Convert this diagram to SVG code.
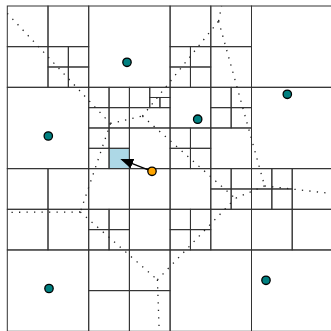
<svg xmlns="http://www.w3.org/2000/svg" width="331" height="331" viewBox="0 0 331 331">
<style>
.c{fill:none;stroke:#333;stroke-width:1}
.v{fill:none;stroke:#222;stroke-width:1.3;stroke-dasharray:1.3 6.2}
.site{fill:#008080;stroke:#000;stroke-width:1.3}
.query{fill:#FFA500;stroke:#000;stroke-width:1.3}
</style>
<defs>
<marker id="ah" markerUnits="userSpaceOnUse" markerWidth="14" markerHeight="11" refX="11" refY="5" orient="auto"><path d="M0,0 L13,5 L0,10 z" fill="#000"/></marker>
</defs>
<rect width="331" height="331" fill="#fff"/>
<rect id="found-cell" x="109.05" y="148.31" width="20.35" height="20.33" fill="#ADD8E6"/>
<g id="quadtree" class="c">
<rect x="7.3" y="6" width="40.7" height="40.66"/>
<rect x="48" y="6" width="40.7" height="40.66"/>
<rect x="7.3" y="46.66" width="40.7" height="40.66"/>
<rect x="48" y="46.66" width="20.35" height="20.33"/>
<rect x="68.35" y="46.66" width="20.35" height="20.33"/>
<rect x="48" y="66.99" width="20.35" height="20.33"/>
<rect x="68.35" y="66.99" width="20.35" height="20.33"/>
<rect x="88.7" y="6" width="81.4" height="81.32"/>
<rect x="7.3" y="87.32" width="81.4" height="81.32"/>
<rect x="88.7" y="87.32" width="20.35" height="20.33"/>
<rect x="109.05" y="87.32" width="20.35" height="20.33"/>
<rect x="88.7" y="107.65" width="20.35" height="20.33"/>
<rect x="109.05" y="107.65" width="20.35" height="20.33"/>
<rect x="129.4" y="87.32" width="20.35" height="20.33"/>
<rect x="149.75" y="87.32" width="20.35" height="10.17"/>
<rect x="149.75" y="97.49" width="10.18" height="10.16"/>
<rect x="159.93" y="97.49" width="10.17" height="10.16"/>
<rect x="129.4" y="107.65" width="40.7" height="20.33"/>
<rect x="88.7" y="127.98" width="20.35" height="20.33"/>
<rect x="109.05" y="127.98" width="20.35" height="20.33"/>
<rect x="88.7" y="148.31" width="20.35" height="20.33"/>
<rect x="109.05" y="148.31" width="20.35" height="20.33"/>
<rect x="129.4" y="127.98" width="40.7" height="40.66"/>
<rect x="170.1" y="6" width="40.7" height="40.66"/>
<rect x="210.8" y="6" width="40.7" height="40.66"/>
<rect x="170.1" y="46.66" width="20.35" height="20.33"/>
<rect x="190.45" y="46.66" width="20.35" height="20.33"/>
<rect x="170.1" y="66.99" width="20.35" height="20.33"/>
<rect x="190.45" y="66.99" width="20.35" height="20.33"/>
<rect x="210.8" y="46.66" width="40.7" height="40.66"/>
<rect x="251.5" y="6" width="81.4" height="81.32"/>
<rect x="251.5" y="87.32" width="81.4" height="81.32"/>
<rect x="170.1" y="87.32" width="40.7" height="40.66"/>
<rect x="210.8" y="87.32" width="20.35" height="20.33"/>
<rect x="231.15" y="87.32" width="20.35" height="20.33"/>
<rect x="210.8" y="107.65" width="20.35" height="20.33"/>
<rect x="231.15" y="107.65" width="20.35" height="20.33"/>
<rect x="170.1" y="127.98" width="20.35" height="20.33"/>
<rect x="190.45" y="127.98" width="20.35" height="20.33"/>
<rect x="170.1" y="148.31" width="20.35" height="20.33"/>
<rect x="190.45" y="148.31" width="20.35" height="20.33"/>
<rect x="210.8" y="127.98" width="40.7" height="40.66"/>
<rect x="7.3" y="168.64" width="40.7" height="40.66"/>
<rect x="48" y="168.64" width="40.7" height="40.66"/>
<rect x="7.3" y="209.3" width="40.7" height="40.66"/>
<rect x="48" y="209.3" width="40.7" height="40.66"/>
<rect x="88.7" y="168.64" width="40.7" height="40.66"/>
<rect x="129.4" y="168.64" width="40.7" height="40.66"/>
<rect x="88.7" y="209.3" width="20.35" height="20.33"/>
<rect x="109.05" y="209.3" width="20.35" height="20.33"/>
<rect x="88.7" y="229.63" width="20.35" height="20.33"/>
<rect x="109.05" y="229.63" width="20.35" height="20.33"/>
<rect x="129.4" y="209.3" width="40.7" height="40.66"/>
<rect x="7.3" y="249.96" width="81.4" height="81.32"/>
<rect x="88.7" y="249.96" width="40.7" height="40.66"/>
<rect x="129.4" y="249.96" width="40.7" height="40.66"/>
<rect x="88.7" y="290.62" width="40.7" height="40.66"/>
<rect x="129.4" y="290.62" width="40.7" height="40.66"/>
<rect x="170.1" y="168.64" width="40.7" height="40.66"/>
<rect x="210.8" y="168.64" width="20.35" height="20.33"/>
<rect x="231.15" y="168.64" width="20.35" height="20.33"/>
<rect x="210.8" y="188.97" width="20.35" height="20.33"/>
<rect x="231.15" y="188.97" width="20.35" height="20.33"/>
<rect x="251.5" y="168.64" width="20.35" height="20.33"/>
<rect x="271.85" y="168.64" width="20.35" height="20.33"/>
<rect x="251.5" y="188.97" width="20.35" height="20.33"/>
<rect x="271.85" y="188.97" width="20.35" height="20.33"/>
<rect x="292.2" y="168.64" width="40.7" height="40.66"/>
<rect x="170.1" y="209.3" width="20.35" height="20.33"/>
<rect x="190.45" y="209.3" width="20.35" height="20.33"/>
<rect x="170.1" y="229.63" width="20.35" height="20.33"/>
<rect x="190.45" y="229.63" width="20.35" height="20.33"/>
<rect x="210.8" y="209.3" width="40.7" height="40.66"/>
<rect x="251.5" y="209.3" width="40.7" height="40.66"/>
<rect x="292.2" y="209.3" width="40.7" height="40.66"/>
<rect x="170.1" y="249.96" width="81.4" height="81.32"/>
<rect x="251.5" y="249.96" width="81.4" height="81.32"/>
</g>
<g id="voronoi" class="v">
<line x1="7.3" y1="13.35" x2="110.4" y2="123.5"/>
<line x1="110.4" y1="123.5" x2="142.4" y2="116.1"/>
<line x1="110.4" y1="123.5" x2="80.3" y2="212"/>
<line x1="80.3" y1="212" x2="7.3" y2="212.3"/>
<line x1="80.3" y1="212" x2="157.4" y2="279.8"/>
<line x1="157.4" y1="279.8" x2="159.2" y2="331.3"/>
<line x1="157.4" y1="279.8" x2="235.2" y2="198.4"/>
<line x1="142.4" y1="116.1" x2="235.2" y2="198.4"/>
<line x1="142.4" y1="116.1" x2="218.6" y2="21.1"/>
<line x1="218.6" y1="21.1" x2="221.6" y2="6"/>
<line x1="218.6" y1="21.1" x2="264.6" y2="185.9"/>
<line x1="264.6" y1="185.9" x2="235.2" y2="198.4"/>
<line x1="264.6" y1="185.9" x2="332.9" y2="193.7"/>
</g>
<g id="connectors">
<line id="query-arrow" x1="152" y1="171.3" x2="122.2" y2="159.7" stroke="#000" stroke-width="1.3" marker-end="url(#ah)"/>
</g>
<g id="site-A"><circle class="site" cx="127" cy="62.3" r="4.2"/></g>
<g id="site-B"><circle class="site" cx="48.3" cy="136" r="4.2"/></g>
<g id="site-C"><circle class="site" cx="197.7" cy="119.2" r="4.2"/></g>
<g id="site-D"><circle class="site" cx="287.3" cy="94.3" r="4.2"/></g>
<g id="site-E"><circle class="site" cx="49" cy="288.5" r="4.2"/></g>
<g id="site-F"><circle class="site" cx="266" cy="280.3" r="4.2"/></g>
<g id="query"><circle class="query" cx="152" cy="171.3" r="4.2"/></g>
</svg>
